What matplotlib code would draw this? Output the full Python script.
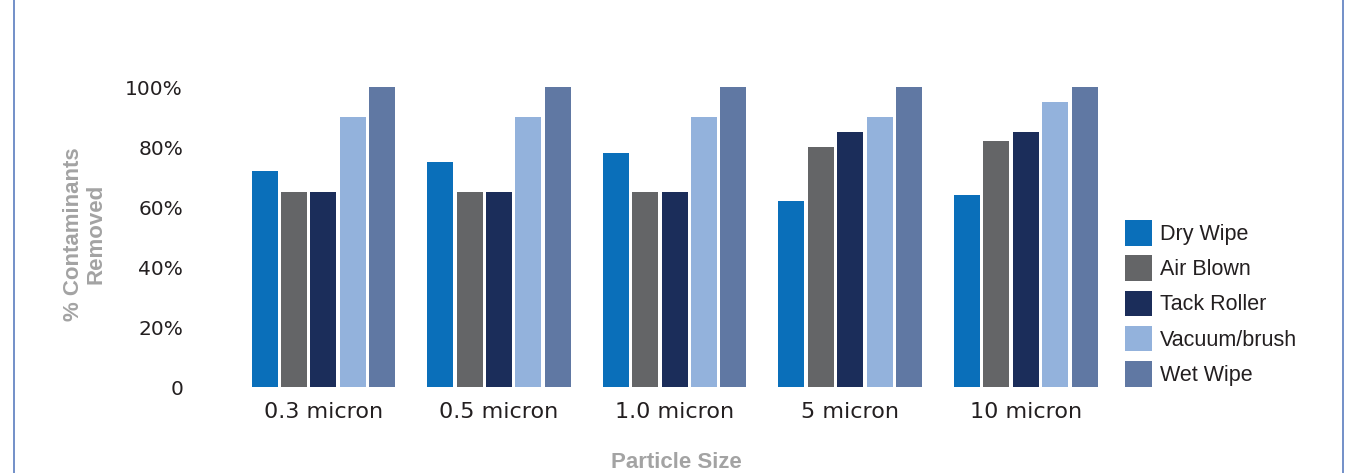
import matplotlib
matplotlib.use("Agg")
import matplotlib.pyplot as plt
from matplotlib.lines import Line2D
import numpy as np

categories = ["0.3 micron", "0.5 micron", "1.0 micron", "5 micron", "10 micron"]
series_names = ["Dry Wipe", "Air Blown", "Tack Roller", "Vacuum/brush", "Wet Wipe"]
dry_wipe = [72, 75, 78, 62, 64]
air_blown = [65, 65, 65, 80, 82]
tack_roller = [65, 65, 65, 85, 85]
vacuum_brush = [90, 90, 90, 90, 95]
wet_wipe = [100, 100, 100, 100, 100]
y_ticks = [0, 20, 40, 60, 80, 100]
y_tick_labels = ["0", "20%", "40%", "60%", "80%", "100%"]

colors = ["#0a6fba", "#646567", "#1b2d5a", "#93b2dc", "#6078a3"]
values = [dry_wipe, air_blown, tack_roller, vacuum_brush, wet_wipe]

W, H = 1347, 473
fig = plt.figure(figsize=(W / 100, H / 100), dpi=100)
fig.patch.set_facecolor("white")

left_px, right_px, bottom_px, top_px = 240, 1100, 387, 87
ax = fig.add_axes([left_px / W, 1 - bottom_px / H, (right_px - left_px) / W, (bottom_px - top_px) / H])

g0, gstep = 323.4, 175.6
ax.set_xlim((left_px - g0) / gstep, (right_px - g0) / gstep)
ax.set_ylim(0, 100)

x = np.arange(len(categories))
step = 29.4 / gstep
width = 26.0 / gstep
handles = []
for i, (name, vals, c) in enumerate(zip(series_names, values, colors)):
    b = ax.bar(x + (i - 2) * step, vals, width=width, color=c, label=name, linewidth=0)
    handles.append(b)

for s in ax.spines.values():
    s.set_visible(False)
ax.set_xticks(x)
ax.set_xticklabels(categories, fontsize=16, color="#231f20", family="DejaVu Sans")
ax.set_yticks(y_ticks)
ax.set_yticklabels(y_tick_labels, fontsize=14.5, color="#231f20", family="DejaVu Sans")
ax.tick_params(axis="both", length=0)
ax.tick_params(axis="y", pad=41)
ax.tick_params(axis="x", pad=11)

fig.text(85 / W, 1 - 234 / H, "% Contaminants\nRemoved", rotation=90, ha="center", va="center",
         multialignment="center", fontsize=16, fontweight="bold", color="#a3a3a3",
         family="Liberation Sans", linespacing=1.1)
fig.text(676 / W, 1 - 462 / H, "Particle Size", ha="center", va="center",
         fontsize=16, fontweight="bold", color="#a3a3a3", family="Liberation Sans")

leg = fig.legend(handles=handles, labels=series_names, loc="upper left",
                 bbox_to_anchor=(1125 / W, 1 - 220 / H), bbox_transform=fig.transFigure,
                 frameon=False, borderpad=0, borderaxespad=0,
                 prop={"family": "Liberation Sans", "size": 15.5},
                 handlelength=1.25, handleheight=1.45, handletextpad=0.38, labelspacing=0.45)
for t in leg.get_texts():
    t.set_color("#231f20")

for xp in (14, 1343):
    fig.add_artist(Line2D([xp / W, xp / W], [0, 1], transform=fig.transFigure,
                          color="#5a7dbf", linewidth=1.2))

fig.savefig("out.png", dpi=100, facecolor="white")
